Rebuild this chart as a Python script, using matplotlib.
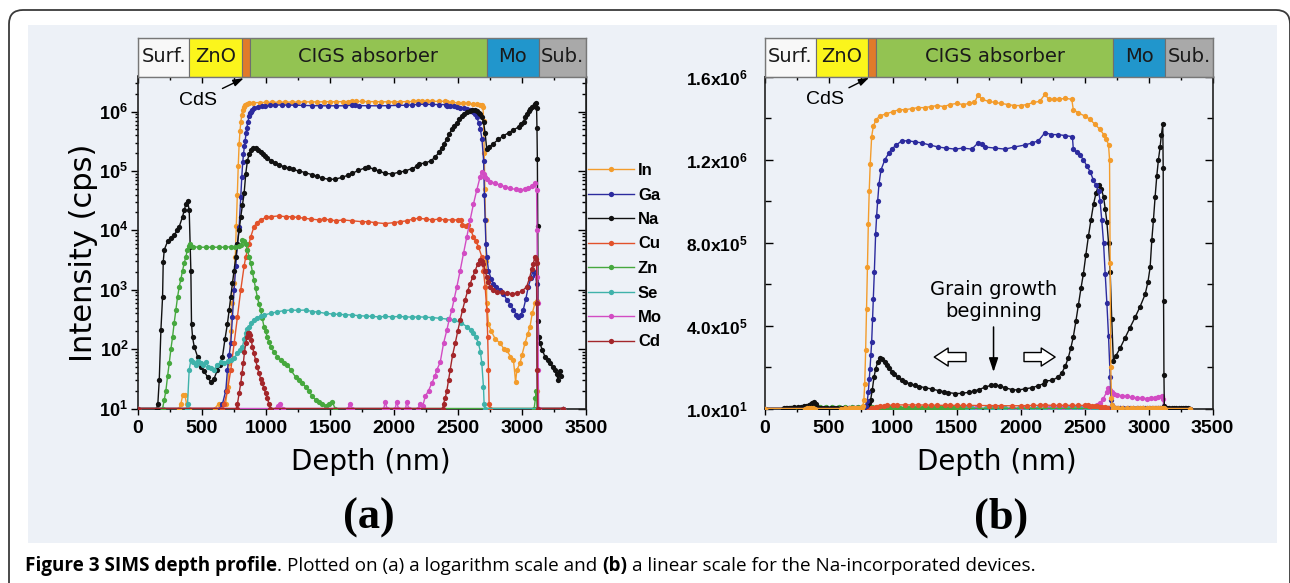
import matplotlib
matplotlib.use("Agg")
import matplotlib.pyplot as plt
from matplotlib.patches import FancyBboxPatch, Rectangle
from matplotlib.transforms import IdentityTransform
from matplotlib.ticker import MultipleLocator, LogLocator, NullFormatter
from matplotlib.font_manager import FontProperties

plt.rcParams["mathtext.fontset"] = "custom"
plt.rcParams["mathtext.bf"] = "Liberation Sans:bold"
plt.rcParams["mathtext.rm"] = "Liberation Sans"
plt.rcParams["mathtext.it"] = "Liberation Sans:italic"

# ------------------------------------------------------------------ data
elements = ["In", "Ga", "Na", "Cu", "Zn", "Se", "Mo", "Cd"]
element_colors = ["#f39c2c", "#2c2b9e", "#111111", "#e2522b",
                  "#46a83e", "#3fb2aa", "#d24cc3", "#a3262a"]

# [depth (nm), intensity (cps)]
in_profile = [
    [0, 10], [320, 10], [335, 12], [350, 17], [365, 17], [380, 12], [395, 10], [600, 10], [630, 12],
    [660, 12], [685, 12], [700, 23], [712, 58], [725, 200], [738, 590], [751, 1300], [760, 3600],
    [768, 12000], [776, 40000], [783, 120000], [790, 280000], [797, 480000], [804, 680000],
    [811, 890000], [818, 1050000], [826, 1180000], [837, 1310000], [850, 1360000], [870, 1390000],
    [900, 1410000], [950, 1420000], [1000, 1430000], [1050, 1440000], [1100, 1440000],
    [1150, 1445000], [1200, 1450000], [1250, 1450000], [1300, 1455000], [1350, 1460000],
    [1400, 1455000], [1450, 1465000], [1500, 1470000], [1550, 1465000], [1600, 1470000],
    [1640, 1475000], [1668, 1510000], [1700, 1490000], [1750, 1480000], [1800, 1475000],
    [1850, 1470000], [1900, 1465000], [1950, 1460000], [2000, 1460000], [2050, 1465000],
    [2100, 1475000], [2150, 1480000], [2191, 1515000], [2220, 1490000], [2260, 1490000],
    [2300, 1490000], [2350, 1495000], [2400, 1490000], [2412, 1440000], [2450, 1425000],
    [2500, 1410000], [2540, 1395000], [2580, 1370000], [2620, 1345000], [2650, 1320000],
    [2670, 1300000], [2687, 1270000], [2695, 1200000], [2700, 700000], [2705, 200000],
    [2710, 50000], [2715, 15000], [2720, 3000], [2725, 600], [2738, 270], [2760, 200], [2790, 150],
    [2830, 125], [2860, 100], [2880, 96], [2910, 75], [2933, 66], [2950, 28], [2960, 45], [2985, 58],
    [3000, 80], [3023, 125], [3045, 180], [3062, 235], [3080, 400], [3101, 590], [3114, 650],
    [3119, 20], [3125, 10], [3320, 10]]

ga_profile = [
    [0, 10], [640, 10], [660, 12], [686, 20], [699, 45], [712, 80], [725, 125], [738, 350],
    [751, 1000], [764, 2500], [777, 6000], [790, 11500], [803, 37000], [811, 80000], [818, 140000],
    [824, 190000], [831, 260000], [837, 320000], [844, 430000], [850, 530000], [858, 660000],
    [868, 840000], [876, 930000], [884, 1000000], [894, 1080000], [910, 1150000], [941, 1200000],
    [970, 1230000], [993, 1250000], [1030, 1270000], [1072, 1290000], [1124, 1290000],
    [1175, 1285000], [1228, 1280000], [1290, 1270000], [1358, 1260000], [1420, 1255000],
    [1488, 1250000], [1550, 1255000], [1619, 1250000], [1668, 1280000], [1697, 1275000],
    [1723, 1260000], [1800, 1255000], [1879, 1250000], [1950, 1260000], [2035, 1270000],
    [2090, 1280000], [2139, 1290000], [2191, 1330000], [2240, 1320000], [2295, 1320000],
    [2350, 1315000], [2405, 1310000], [2412, 1250000], [2440, 1235000], [2465, 1220000],
    [2490, 1200000], [2517, 1170000], [2545, 1140000], [2569, 1100000], [2590, 1075000],
    [2609, 1050000], [2621, 1000000], [2634, 910000], [2648, 800000], [2661, 650000],
    [2674, 510000], [2687, 350000], [2700, 150000], [2706, 40000], [2712, 15000], [2718, 6000],
    [2725, 3600], [2738, 2100], [2760, 1500], [2777, 1250], [2800, 1100], [2829, 1000], [2855, 850],
    [2881, 680], [2910, 550], [2933, 460], [2955, 380], [2972, 350], [2990, 380], [3010, 460],
    [3030, 700], [3049, 1120], [3070, 1600], [3088, 2100], [3105, 1800], [3114, 1250], [3120, 10],
    [3320, 10]]

na_profile = [
    [0, 10], [145, 10], [155, 12], [166, 30], [179, 210], [192, 760], [197, 2900], [205, 4700],
    [231, 6500], [260, 7500], [283, 8300], [305, 10000], [322, 11500], [348, 17000], [362, 22000],
    [374, 28000], [387, 31000], [400, 22000], [408, 5300], [413, 2100], [418, 270], [426, 160],
    [439, 110], [465, 75], [491, 50], [517, 42], [543, 34], [569, 28], [595, 32], [621, 45],
    [640, 55], [660, 75], [680, 150], [699, 270], [712, 450], [725, 760], [738, 1300], [751, 2100],
    [764, 3500], [777, 6000], [790, 10000], [803, 17000], [816, 27000], [829, 42000], [842, 90000],
    [855, 150000], [868, 190000], [885, 225000], [902, 245000], [920, 240000], [941, 226000],
    [958, 210000], [975, 195000], [993, 178000], [1010, 168000], [1040, 150000], [1072, 137000],
    [1100, 128000], [1140, 118000], [1176, 112000], [1210, 106000], [1257, 100000], [1306, 94000],
    [1361, 86000], [1400, 81000], [1436, 77000], [1491, 72000], [1540, 73000], [1595, 78000],
    [1640, 85000], [1673, 91000], [1720, 102000], [1770, 112000], [1800, 115000], [1840, 108000],
    [1881, 100000], [1932, 91000], [1983, 89000], [2036, 95000], [2088, 100000], [2140, 110000],
    [2180, 120000], [2192, 133000], [2244, 135000], [2290, 150000], [2321, 170000], [2350, 205000],
    [2373, 245000], [2392, 290000], [2412, 345000], [2432, 420000], [2452, 500000], [2472, 580000],
    [2491, 650000], [2510, 740000], [2530, 830000], [2550, 910000], [2570, 985000],
    [2590, 1040000], [2609, 1075000], [2630, 1060000], [2648, 1020000], [2662, 960000],
    [2674, 900000], [2687, 800000], [2700, 660000], [2712, 430000], [2725, 230000], [2745, 255000],
    [2777, 290000], [2816, 340000], [2855, 390000], [2895, 440000], [2933, 490000], [2973, 550000],
    [2995, 610000], [3012, 680000], [3025, 810000], [3038, 910000], [3051, 1020000],
    [3064, 1120000], [3077, 1200000], [3090, 1260000], [3100, 1320000], [3111, 1370000],
    [3114, 1160000], [3117, 520000], [3120, 160000], [3123, 12000], [3126, 300], [3130, 160],
    [3140, 125], [3160, 95], [3179, 75], [3200, 65], [3218, 58], [3240, 50], [3257, 45], [3270, 38],
    [3283, 30], [3296, 42], [3305, 35]]

cu_profile = [
    [0, 10], [660, 10], [673, 12], [699, 20], [725, 45], [751, 125], [777, 350], [803, 1000],
    [829, 2500], [842, 3600], [855, 4600], [868, 6000], [881, 7800], [906, 11500], [930, 13500],
    [958, 15000], [1000, 16500], [1036, 17000], [1100, 17500], [1153, 17000], [1200, 17000],
    [1250, 16500], [1300, 16000], [1350, 15500], [1413, 15000], [1450, 15500], [1500, 15000],
    [1550, 14500], [1600, 15000], [1673, 14500], [1750, 14000], [1800, 14000], [1850, 13500],
    [1932, 13000], [2000, 13500], [2050, 14000], [2100, 14500], [2150, 15500], [2192, 16000],
    [2250, 15500], [2300, 15000], [2350, 15500], [2400, 15000], [2450, 15000], [2500, 15000],
    [2525, 15000], [2535, 12300], [2560, 12000], [2582, 12300], [2600, 10000], [2621, 7800],
    [2640, 6500], [2660, 5300], [2686, 3600], [2699, 2100], [2712, 1120], [2725, 460], [2732, 160],
    [2738, 45], [2743, 12], [2750, 10], [3320, 10]]

zn_profile = [
    [0, 10], [192, 10], [205, 14], [218, 20], [231, 35], [244, 58], [257, 100], [270, 160],
    [283, 280], [296, 460], [309, 750], [322, 1120], [335, 1500], [348, 2100], [361, 2800],
    [374, 3600], [385, 4600], [395, 5500], [408, 6000], [430, 5300], [480, 5200], [530, 5200],
    [580, 5200], [630, 5200], [680, 5200], [730, 5300], [760, 5300], [790, 5400], [803, 5600],
    [816, 6900], [829, 6500], [842, 6000], [855, 4600], [868, 3600], [881, 2800], [894, 2000],
    [906, 1450], [919, 1050], [932, 760], [945, 580], [958, 460], [971, 330], [984, 240],
    [997, 200], [1010, 160], [1023, 130], [1036, 110], [1062, 90], [1088, 75], [1114, 65],
    [1140, 58], [1166, 55], [1192, 45], [1231, 34], [1257, 30], [1283, 27], [1310, 23], [1335, 20],
    [1361, 16], [1387, 14], [1413, 13], [1439, 12], [1465, 11], [1490, 12], [1517, 13], [1540, 10],
    [3095, 10], [3105, 15], [3112, 20], [3118, 10], [3320, 10]]

se_profile = [
    [0, 10], [380, 10], [387, 12], [400, 45], [413, 65], [430, 60], [450, 55], [470, 62], [490, 58],
    [510, 55], [530, 60], [550, 50], [570, 48], [595, 45], [620, 55], [650, 60], [673, 58],
    [700, 62], [725, 65], [750, 70], [777, 85], [800, 95], [816, 110], [830, 150], [842, 185],
    [855, 215], [868, 240], [885, 275], [906, 310], [930, 340], [958, 360], [984, 375], [1036, 400],
    [1088, 425], [1140, 445], [1192, 455], [1250, 450], [1309, 455], [1360, 430], [1410, 420],
    [1465, 400], [1520, 390], [1570, 385], [1620, 380], [1673, 375], [1730, 365], [1780, 360],
    [1830, 355], [1881, 350], [1930, 355], [1985, 350], [2040, 355], [2088, 350], [2140, 345],
    [2190, 350], [2244, 345], [2300, 340], [2361, 330], [2420, 320], [2465, 310], [2520, 280],
    [2569, 240], [2600, 210], [2621, 185], [2640, 160], [2660, 125], [2675, 90], [2686, 58],
    [2699, 23], [2704, 12], [2710, 10], [3320, 10]]

mo_profile = [
    [0, 10], [1080, 10], [1095, 11], [1110, 12], [1130, 10], [1640, 10], [1655, 12], [1670, 10],
    [1920, 10], [1932, 13], [1945, 10], [2010, 10], [2020, 13], [2035, 10], [2090, 10], [2100, 13],
    [2115, 10], [2190, 10], [2200, 12], [2225, 11], [2244, 16], [2270, 20], [2296, 27], [2320, 35],
    [2335, 45], [2361, 60], [2387, 125], [2413, 210], [2432, 320], [2452, 460], [2470, 700],
    [2491, 1120], [2517, 2100], [2543, 4100], [2569, 7800], [2595, 15000], [2621, 28000],
    [2647, 48000], [2673, 80000], [2686, 97000], [2700, 90000], [2712, 80000], [2730, 72000],
    [2751, 66000], [2790, 62000], [2829, 58000], [2870, 54000], [2907, 51000], [2950, 49000],
    [2984, 48000], [3020, 49000], [3049, 51000], [3075, 56000], [3101, 62000], [3114, 48000],
    [3117, 10000], [3120, 1650], [3124, 590], [3127, 45], [3130, 10], [3320, 10]]

cd_profile = [
    [0, 10], [770, 10], [777, 12], [790, 18], [803, 27], [813, 40], [823, 58], [832, 90],
    [842, 125], [851, 160], [860, 185], [868, 185], [875, 175], [885, 140], [894, 110], [906, 85],
    [919, 65], [932, 50], [945, 39], [958, 32], [971, 27], [984, 22], [997, 18], [1010, 15],
    [1023, 12], [1035, 10], [2380, 10], [2387, 12], [2400, 15], [2413, 20], [2426, 30], [2439, 45],
    [2458, 80], [2478, 125], [2498, 200], [2517, 310], [2536, 460], [2556, 680], [2575, 950],
    [2595, 1260], [2615, 1650], [2634, 2100], [2654, 2700], [2673, 3200], [2686, 3100],
    [2699, 2750], [2712, 2100], [2725, 1650], [2738, 1350], [2751, 1120], [2777, 1000], [2803, 930],
    [2840, 900], [2881, 870], [2920, 860], [2959, 870], [3000, 950], [3036, 1120], [3060, 1600],
    [3075, 2200], [3088, 2750], [3101, 3600], [3110, 3300], [3114, 2800], [3117, 590], [3119, 45],
    [3123, 10], [3320, 10]]

profiles = [in_profile, ga_profile, na_profile, cu_profile,
            zn_profile, se_profile, mo_profile, cd_profile]

layer_names = ["Surf.", "ZnO", "", "CIGS absorber", "Mo", "Sub."]
layer_start = [0, 400, 812, 872, 2725, 3130]
layer_end = [400, 812, 872, 2725, 3130, 3500]
layer_colors = ["#f8f8f8", "#fbf51c", "#e07a2a", "#93c352", "#2196cc", "#a9a9a9"]

depth_ticks = [0, 500, 1000, 1500, 2000, 2500, 3000, 3500]
depth_tick_labels = ["0", "500", "1000", "1500", "2000", "2500", "3000", "3500"]
log_ticks = [1e1, 1e2, 1e3, 1e4, 1e5, 1e6]
log_tick_labels = [r"$\mathbf{10^{1}}$", r"$\mathbf{10^{2}}$", r"$\mathbf{10^{3}}$",
                   r"$\mathbf{10^{4}}$", r"$\mathbf{10^{5}}$", r"$\mathbf{10^{6}}$"]
lin_ticks = [10, 4e5, 8e5, 1.2e6, 1.6e6]
lin_tick_labels = [r"$\mathbf{1.0x10^{1}}$", r"$\mathbf{4.0x10^{5}}$", r"$\mathbf{8.0x10^{5}}$",
                   r"$\mathbf{1.2x10^{6}}$", r"$\mathbf{1.6x10^{6}}$"]

# ------------------------------------------------------------------ figure
W, H = 1290, 583
fig = plt.figure(figsize=(W / 100, H / 100), dpi=100)
fig.patch.set_facecolor("white")

def fx(px):
    return px / W

def fy(py):
    return 1 - py / H

BG = "#edf1f7"
fig.add_artist(Rectangle((fx(28), fy(543)), fx(1277) - fx(28), fy(25) - fy(543),
                         transform=fig.transFigure, facecolor=BG, edgecolor="none", zorder=-20))
fig.add_artist(FancyBboxPatch((9, -30), 1281, H - 10 + 30,
                              boxstyle="round,pad=0,rounding_size=14",
                              transform=IdentityTransform(), facecolor="none",
                              edgecolor="#3a3a3a", linewidth=1.3, zorder=-15))

xtick_fp = FontProperties(family="Liberation Sans", weight="bold", size=14)
ytick_fp_log = FontProperties(family="Liberation Sans", weight="bold", size=13)
ytick_fp_lin = FontProperties(family="Liberation Sans", weight="bold", size=12.5)
legend_fp = FontProperties(family="Liberation Sans", weight="bold", size=12)

AX_TOP, AX_BOT, BAR_TOP = 76.5, 408.5, 37.5
panels = [(138, 586, True), (764.5, 1212.6, False)]
axes = []
for left, right, is_log in panels:
    ax = fig.add_axes([fx(left), fy(AX_BOT), fx(right) - fx(left), fy(AX_TOP) - fy(AX_BOT)])
    bar = fig.add_axes([fx(left), fy(AX_TOP), fx(right) - fx(left), fy(BAR_TOP) - fy(AX_TOP)])
    ax.set_facecolor(BG)
    # layer bar
    widths = [e - s for s, e in zip(layer_start, layer_end)]
    bar.barh([0.5] * len(widths), widths, left=layer_start, height=1.0,
             color=layer_colors, edgecolor="#6f6f6f", linewidth=0.8)
    for name, s, e in zip(layer_names, layer_start, layer_end):
        if name:
            bar.text((s + e) / 2, 0.5, name, ha="center", va="center",
                     fontsize=14, family="DejaVu Sans", color="#1a1a1a")
    bar.set_xlim(0, 3500)
    bar.set_ylim(0, 1)
    bar.set_xticks([])
    bar.set_yticks([])
    for sp in bar.spines.values():
        sp.set_color("#777777")
        sp.set_linewidth(1.0)

    order = range(len(elements)) if is_log else reversed(range(len(elements)))
    for i in order:
        d = [p[0] for p in profiles[i]]
        v = [p[1] for p in profiles[i]]
        ax.plot(d, v, "-o", color=element_colors[i], lw=1.0, ms=3.8, mew=0,
                label=elements[i], zorder=3 + (i if is_log else 0))

    ax.set_xlim(0, 3500)
    ax.set_xticks(depth_ticks)
    ax.set_xticklabels(depth_tick_labels, fontproperties=xtick_fp)
    ax.xaxis.set_minor_locator(MultipleLocator(250))
    ax.tick_params(axis="x", which="both", direction="out", top=False, pad=4, width=1.0)
    ax.tick_params(axis="x", which="major", length=4)
    ax.tick_params(axis="x", which="minor", length=2.5)
    top = ax.secondary_xaxis("top")
    top.set_xticks(depth_ticks)
    top.xaxis.set_minor_locator(MultipleLocator(250))
    top.tick_params(which="both", direction="in", labeltop=False, width=1.0)
    top.tick_params(which="major", length=5)
    top.tick_params(which="minor", length=3)

    if is_log:
        ax.set_yscale("log")
        ax.set_ylim(10, 3.9e6)
        ax.set_yticks(log_ticks)
        ax.set_yticklabels(log_tick_labels, fontproperties=ytick_fp_log)
        ax.yaxis.set_minor_locator(LogLocator(base=10, subs=[2, 3, 4, 5, 6, 7, 8, 9], numticks=20))
        ax.yaxis.set_minor_formatter(NullFormatter())
        ax.tick_params(axis="y", which="both", direction="out", right=False, pad=2, width=1.0)
        ax.tick_params(axis="y", which="major", length=5)
        ax.tick_params(axis="y", which="minor", length=2.5)
        rgt = ax.secondary_yaxis("right")
        rgt.set_yticks(log_ticks)
        rgt.yaxis.set_minor_locator(LogLocator(base=10, subs=[2, 3, 4, 5, 6, 7, 8, 9], numticks=20))
        rgt.yaxis.set_minor_formatter(NullFormatter())
        rgt.tick_params(which="both", direction="in", labelright=False, width=1.0)
        rgt.tick_params(which="major", length=6)
        rgt.tick_params(which="minor", length=3)
    else:
        ax.set_ylim(10, 1.6e6)
        ax.set_yticks(lin_ticks)
        ax.set_yticklabels(lin_tick_labels, fontproperties=ytick_fp_lin)
        ax.yaxis.set_minor_locator(MultipleLocator(2e5))
        ax.tick_params(axis="y", which="both", direction="in", right=True, pad=12, width=1.0)
        ax.tick_params(axis="y", which="major", length=6)
        ax.tick_params(axis="y", which="minor", length=4)
    for sp in ax.spines.values():
        sp.set_linewidth(1.2)
        sp.set_color("#222222")
    axes.append(ax)

ax_a, ax_b = axes

# axis labels
for ax, cx in ((ax_a, 371), (ax_b, 997)):
    ax.set_xlabel("Depth (nm)", fontsize=20, family="DejaVu Sans", va="center")
    l, r = (138, 586) if ax is ax_a else (764.5, 1212.6)
    ax.xaxis.set_label_coords((cx - l) / (r - l), -(462 - AX_BOT) / (AX_BOT - AX_TOP))
ax_a.set_ylabel("Intensity (cps)", fontsize=22, family="DejaVu Sans", va="center")
ax_a.yaxis.set_label_coords((84 - 138) / (586 - 138), (AX_BOT - 253) / (AX_BOT - AX_TOP))

# legend
ax_a.legend(loc="upper left", bbox_to_anchor=(fx(588), fy(163)), bbox_transform=fig.transFigure,
            frameon=False, prop=legend_fp, handlelength=2.75, handletextpad=0.25,
            labelspacing=0.57, borderpad=0, borderaxespad=0, numpoints=1)

# annotations panel (a)
ax_a.annotate("CdS", xy=(826, 0.995), xycoords=("data", "axes fraction"),
              xytext=(470, 1.55e6), textcoords="data", ha="center", va="center",
              fontsize=14, family="Liberation Sans",
              arrowprops=dict(arrowstyle="-|>,head_length=0.45,head_width=0.15",
                              color="black", lw=1.0, shrinkA=2, shrinkB=0, mutation_scale=14))
# annotations panel (b)
ax_b.annotate("CdS", xy=(818, 1.595e6), xycoords="data",
              xytext=(470, 1.487e6), textcoords="data", ha="center", va="center",
              fontsize=14, family="Liberation Sans",
              arrowprops=dict(arrowstyle="-|>,head_length=0.45,head_width=0.15",
                              color="black", lw=1.0, shrinkA=2, shrinkB=0, mutation_scale=14))
ax_b.text(1789, 5.2e5, "Grain growth\nbeginning", ha="center", va="center",
          fontsize=14, family="DejaVu Sans", linespacing=1.25, zorder=20)
ax_b.annotate("", xy=(1789, 1.76e5), xytext=(1789, 3.93e5),
              arrowprops=dict(arrowstyle="-|>,head_length=0.6,head_width=0.2",
                              color="black", lw=1.1, shrinkA=0, shrinkB=0, mutation_scale=14))
hollow = "simple,head_length=1.0,head_width=1.3,tail_width=0.65"
ax_b.annotate("", xy=(1326, 2.48e5), xytext=(1574, 2.48e5),
              arrowprops=dict(arrowstyle=hollow, fc="white", ec="black", lw=1.0,
                              shrinkA=0, shrinkB=0, mutation_scale=10))
ax_b.annotate("", xy=(2270, 2.48e5), xytext=(2027, 2.48e5),
              arrowprops=dict(arrowstyle=hollow, fc="white", ec="black", lw=1.0,
                              shrinkA=0, shrinkB=0, mutation_scale=10))

# panel letters
for cx, letter in ((369, "(a)"), (1001, "(b)")):
    fig.text(fx(cx), fy(518), letter, ha="center", va="center", fontsize=32,
             family="Liberation Serif", weight="bold")

# caption (mixed weights)
renderer = fig.canvas.get_renderer()
cap_font = dict(family="Open Sans", fontsize=13.6)
probe1 = fig.text(0, 0, "x x", **cap_font)
probe2 = fig.text(0, 0, "xx", **cap_font)
space_w = probe1.get_window_extent(renderer).width - probe2.get_window_extent(renderer).width
probe1.remove()
probe2.remove()
caption_parts = [("Figure 3 SIMS depth profile", "bold", False),
                 (".", "normal", True),
                 ("Plotted on (a) a logarithm scale and", "normal", True),
                 ("(b)", "bold", True),
                 ("a linear scale for the Na-incorporated devices.", "normal", False)]
xpos = 25.0
for txt, wt, gap in caption_parts:
    t = fig.text(fx(xpos), fy(566), txt, ha="left", va="center", weight=wt, **cap_font)
    xpos += t.get_window_extent(renderer).width + (space_w if gap else 0)

fig.savefig("out.png", dpi=100, facecolor="white")
